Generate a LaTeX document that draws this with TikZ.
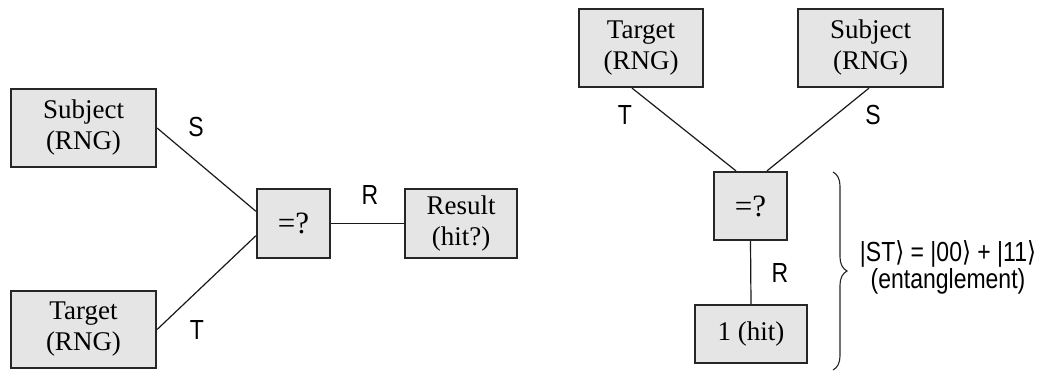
\documentclass[tikz,border=0pt]{standalone}
\usepackage{fontspec}
\usepackage{graphicx}
\setmainfont{Liberation Serif}
\newfontfamily\arialf{Liberation Sans}
\newfontfamily\dejavuf{DejaVu Sans}
\usetikzlibrary{decorations.pathreplacing,calc}
\newcommand{\rang}{{\dejavuf\char"27E9}}
\newcommand{\tall}[1]{\scalebox{1}[1.2]{#1}}
\begin{document}
\begin{tikzpicture}[x=1pt,y=-1pt,
  box/.style={draw=black!85,line width=2.2pt,fill=black!10,inner sep=0pt,align=center,
    font=\fontsize{27}{31}\selectfont},
  eqbox/.style={box,font=\fontsize{31}{31}\selectfont},
  conn/.style={line width=1.2pt,draw=black!90},
  lbl/.style={font=\arialf\fontsize{23}{20}\selectfont,inner sep=0pt}]
\useasboundingbox (0,0) rectangle (1046,371);
% left diagram
\node[box,minimum width=145pt,minimum height=78pt] (subL) at (83.5,128) {Subject\\(RNG)};
\node[box,minimum width=145pt,minimum height=77pt] (tarL) at (83.5,329.5) {Target\\(RNG)};
\node[eqbox,minimum width=73pt,minimum height=69pt] (eqL) at (293.5,223.5) {=?};
\node[box,minimum width=112pt,minimum height=69pt] (res) at (461,223.5) {Result\\(hit?)};
\draw[conn] (subL.east) -- (eqL.162);
\draw[conn] (tarL.east) -- (eqL.198);
\draw[conn] (eqL.east) -- (res.west);
\node[lbl] (sL) at (196,127) {\tall{S}};
\node[lbl] (tL) at (197,330) {\tall{T}};
\node[lbl] (rL) at (370,195) {\tall{R}};
% right diagram
\node[box,minimum width=124pt,minimum height=78pt] (tarR) at (641,48) {Target\\(RNG)};
\node[box,minimum width=145pt,minimum height=78pt] (subR) at (870.5,48) {Subject\\(RNG)};
\node[eqbox,minimum width=73pt,minimum height=68pt] (eqR) at (750.5,206) {=?};
\node[box,minimum width=112pt,minimum height=58pt] (hit) at (751,334) {1 (hit)};
\draw[conn] ($(tarR.south)+(-9,0)$) -- ($(eqR.north)+(-14.5,0)$);
\draw[conn] ($(subR.south)+(-1.5,0)$) -- ($(eqR.north)+(16.5,0)$);
\draw[conn] (eqR.south) -- (hit.north);
\node[lbl] (tR) at (625,115) {\tall{T}};
\node[lbl] (sR) at (873,115) {\tall{S}};
\node[lbl] (rR) at (780,273) {\tall{R}};
\coordinate (bt) at (833,172);
\coordinate (bb) at (833,370);
\draw[line width=1.1pt,black!85,decorate,decoration={brace,amplitude=14pt}] (bt) -- (bb);
\node[lbl] (ent) at (948,268) {\tall{\begin{tabular}{@{}c@{}}|ST\rang{} = |00\rang{} + |11\rang\\(entanglement)\end{tabular}}};
\end{tikzpicture}
\end{document}
